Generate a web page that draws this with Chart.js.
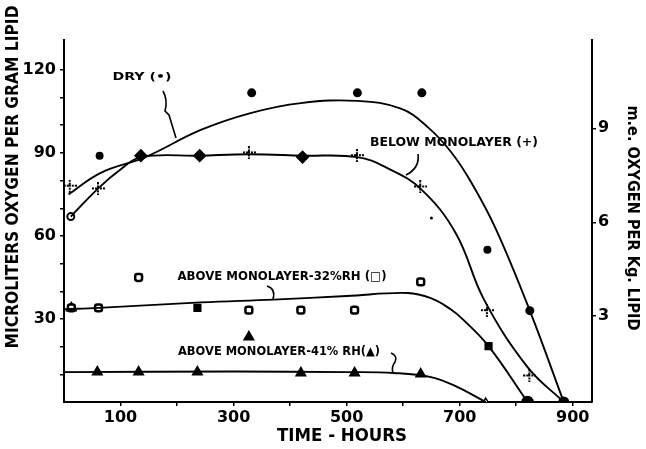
<!DOCTYPE html>
<html>
<head>
<meta charset="utf-8">
<script src="https://cdn.jsdelivr.net/npm/chart.js@4.4.1/dist/chart.umd.min.js"></script>
<style>
  html, body { margin: 0; padding: 0; background: #fff; }
  #wrap { width: 646px; height: 449px; }
</style>
</head>
<body>
<div id="wrap"><canvas id="c" width="646" height="449"></canvas></div>
<script>
// ---- data (time in hours, microliters O2 per g lipid) ----
const dryX = [63, 332, 519, 633, 650, 749, 824, 884];
const dryY = [89, 111.7, 111.7, 111.7, 66.5, 55, 33, 0];
const dryCurveX = [8, 65, 144, 242, 330, 419, 519, 596, 643, 684, 720, 764, 824, 884];
const dryCurveY = [75, 82.8, 88.5, 98.3, 104.4, 108, 108.8, 106, 99.4, 90.5, 79.5, 62.5, 33, 0];

const belowX = [11, 12, 61, 136, 240, 328, 422, 519, 631, 749, 824];
const belowY = [78, 67, 77, 89, 89, 90, 88.5, 89, 77.7, 33, 9.4];
const belowCurveX = [12, 61, 100, 136, 240, 328, 422, 519, 572, 631, 693, 743, 820, 884];
const belowCurveY = [67, 77.3, 84, 88.5, 89, 89.5, 89, 88.5, 84.5, 77, 61, 37, 12.6, 0];

const rh32X = [13, 61, 132, 236, 327, 419, 514, 631, 751, 820];
const rh32Y = [34, 34, 45, 34, 33.2, 33.2, 33.2, 43.4, 20.2, 0];
const rh32CurveX = [0, 61, 242, 371, 500, 608, 649, 684, 707, 751, 820];
const rh32CurveY = [33.5, 34, 36, 37, 38.3, 39.4, 37.5, 33.5, 29.6, 20.2, 0];

const rh41X = [13, 59, 132, 236, 327, 419, 514, 631, 746];
const rh41Y = [34, 10.8, 10.8, 10.8, 23.5, 10.5, 10.5, 10.1, 0];
const rh41CurveX = [0, 300, 500, 583, 649, 696, 746];
const rh41CurveY = [10.8, 11, 10.8, 10.5, 9, 5.4, 0];

// axis ticks
const xTicks = [100, 200, 300, 400, 500, 600, 700, 800, 900];
const xLabels = [100, 300, 500, 700, 900];
const yTicks = [10, 20, 30, 40, 50, 60, 70, 80, 90, 100, 110, 120];
const yLabels = [30, 60, 90, 120];
const y2Ticks = [3, 6, 9];

// marker kinds per point
const dryRadius = [4, 4.5, 4.5, 4.5, 1.5, 4, 4.5, 5.5];
const belowKind = ['cross', 'open', 'cross', 'diamond', 'diamond', 'cross', 'diamond', 'cross', 'cross', 'cross', 'cross'];
const rh32Kind = ['open', 'open', 'open', 'filled', 'open', 'open', 'open', 'open', 'filled', 'dot'];
const rh41Kind = ['tri', 'tri', 'tri', 'tri', 'tri', 'tri', 'tri', 'tri', 'open'];

const pts = (xs, ys) => xs.map((x, i) => ({ x: x, y: ys[i] }));
const FONT = '"DejaVu Sans", "Liberation Sans", sans-serif';

// dotted plus marker, drawn once into a small canvas
function dottedCross() {
  const cv = document.createElement('canvas');
  cv.width = 13; cv.height = 13;
  const g = cv.getContext('2d');
  g.fillStyle = '#000';
  [[5, 0], [5, 3], [5, 8], [5, 11], [0, 5], [3, 5], [8, 5], [11, 5], [5, 5]].forEach(p => g.fillRect(p[0], p[1], 2, 2));
  return cv;
}
const crossImg = dottedCross();

const belowStyle = belowKind.map(k => k === 'cross' ? crossImg : k === 'diamond' ? 'rectRot' : 'circle');
const belowRadius = belowKind.map(k => k === 'diamond' ? 5.5 : k === 'open' ? 3.5 : 6);
const belowFill = belowKind.map(k => k === 'open' ? '#fff' : '#000');
const rh32Style = rh32Kind.map(k => k === 'dot' ? 'circle' : k === 'filled' ? 'rect' : 'rectRounded');
const rh32Radius = rh32Kind.map(k => k === 'dot' ? 5 : 4);
const rh32Fill = rh32Kind.map(k => k === 'open' ? '#fff' : '#000');
const rh41Radius = rh41Kind.map(k => k === 'open' ? 4 : 5.5);
const rh41Fill = rh41Kind.map(k => k === 'open' ? '#fff' : '#000');

function curve(xs, ys) {
  return {
    data: pts(xs, ys), showLine: true, pointRadius: 0, borderColor: '#000',
    borderWidth: 1.9, tension: 0.4, fill: false
  };
}
function marks(xs, ys, style, radius, fill, bw) {
  return {
    data: pts(xs, ys), showLine: false, pointStyle: style, pointRadius: radius,
    pointBackgroundColor: fill, pointBorderColor: '#000', pointBorderWidth: bw
  };
}

// horizontally fitted text (the original lettering is tightly set)
function fitText(ctx, text, x, y, size, width, rot) {
  ctx.save();
  ctx.translate(x, y);
  ctx.rotate(rot || 0);
  ctx.font = 'bold ' + size + 'px ' + FONT;
  const w = ctx.measureText(text).width;
  ctx.scale(width / w, 1);
  ctx.fillStyle = '#000';
  ctx.textAlign = 'center';
  ctx.textBaseline = 'middle';
  ctx.fillText(text, 0, 0);
  ctx.restore();
}

const labelsPlugin = {
  id: 'labels',
  afterDraw(chart) {
    const ctx = chart.ctx;
    fitText(ctx, 'MICROLITERS OXYGEN PER GRAM LIPID', 14, 177, 17, 343, -Math.PI / 2);
    fitText(ctx, 'm.e. OXYGEN PER Kg. LIPID', 632, 218, 16, 225, Math.PI / 2);
    fitText(ctx, 'TIME - HOURS', 342, 437, 17, 130, 0);

    fitText(ctx, 'DRY (•)', 142, 77, 11, 59, 0);
    fitText(ctx, 'BELOW MONOLAYER (+)', 454, 143, 12, 168, 0);
    fitText(ctx, 'ABOVE MONOLAYER-32%RH (□)', 282, 277, 12, 209, 0);
    fitText(ctx, 'ABOVE MONOLAYER-41% RH(▲)', 279, 352, 12, 202, 0);

    // leader squiggles
    ctx.save();
    ctx.strokeStyle = '#000';
    ctx.lineWidth = 1.6;
    ctx.beginPath();
    ctx.moveTo(163, 91);
    ctx.quadraticCurveTo(168, 100, 165, 111);
    ctx.lineTo(169, 115);
    ctx.lineTo(176, 138);
    ctx.stroke();
    ctx.beginPath();
    ctx.moveTo(418, 154);
    ctx.quadraticCurveTo(420, 168, 406, 175);
    ctx.stroke();
    ctx.beginPath();
    ctx.moveTo(267, 286);
    ctx.quadraticCurveTo(276, 289, 273, 299);
    ctx.stroke();
    ctx.beginPath();
    ctx.moveTo(391, 353);
    ctx.quadraticCurveTo(398, 356, 395, 362);
    ctx.quadraticCurveTo(391, 367, 393, 373);
    ctx.stroke();
    ctx.restore();
  }
};

const tickFont = { family: FONT, size: 16, weight: 'bold' };
const axisBorder = { display: true, color: '#000', width: 2 };
const tickGrid = { display: true, drawOnChartArea: false, drawTicks: true, tickLength: 4, color: '#000', lineWidth: 1.5 };

new Chart(document.getElementById('c'), {
  type: 'scatter',
  data: {
    datasets: [
      curve(dryCurveX, dryCurveY),
      curve(belowCurveX, belowCurveY),
      curve(rh32CurveX, rh32CurveY),
      curve(rh41CurveX, rh41CurveY),
      marks(dryX, dryY, 'circle', dryRadius, '#000', 0),
      marks(belowX, belowY, belowStyle, belowRadius, belowFill, 2),
      marks(rh32X, rh32Y, rh32Style, rh32Radius, rh32Fill, 2.5),
      marks(rh41X, rh41Y, 'triangle', rh41Radius, rh41Fill, 1.5)
    ]
  },
  options: {
    responsive: false,
    animation: false,
    events: [],
    layout: { padding: { top: 40, left: 0, right: 0, bottom: 0 } },
    plugins: { legend: { display: false }, tooltip: { enabled: false } },
    scales: {
      x: {
        type: 'linear', min: 0, max: 934,
        border: axisBorder, grid: tickGrid,
        afterBuildTicks: s => { s.ticks = xTicks.map(v => ({ value: v })); },
        afterFit: s => { s.height = 47; },
        ticks: {
          color: '#000', font: tickFont, padding: 2, maxRotation: 0, autoSkip: false,
          callback: v => xLabels.includes(v) ? String(v) : ''
        }
      },
      y: {
        type: 'linear', position: 'left', min: 0, max: 130.8,
        border: axisBorder, grid: tickGrid,
        afterBuildTicks: s => { s.ticks = yTicks.map(v => ({ value: v })); },
        afterFit: s => { s.width = 64; },
        ticks: {
          color: '#000', font: tickFont, padding: 4, autoSkip: false,
          callback: v => yLabels.includes(v) ? String(v) : ''
        }
      },
      y2: {
        type: 'linear', position: 'right', min: 0.26, max: 11.82,
        border: axisBorder, grid: tickGrid,
        afterBuildTicks: s => { s.ticks = y2Ticks.map(v => ({ value: v })); },
        afterFit: s => { s.width = 54; },
        ticks: { color: '#000', font: tickFont, padding: 2, autoSkip: false }
      }
    }
  },
  plugins: [labelsPlugin]
});
</script>
</body>
</html>
